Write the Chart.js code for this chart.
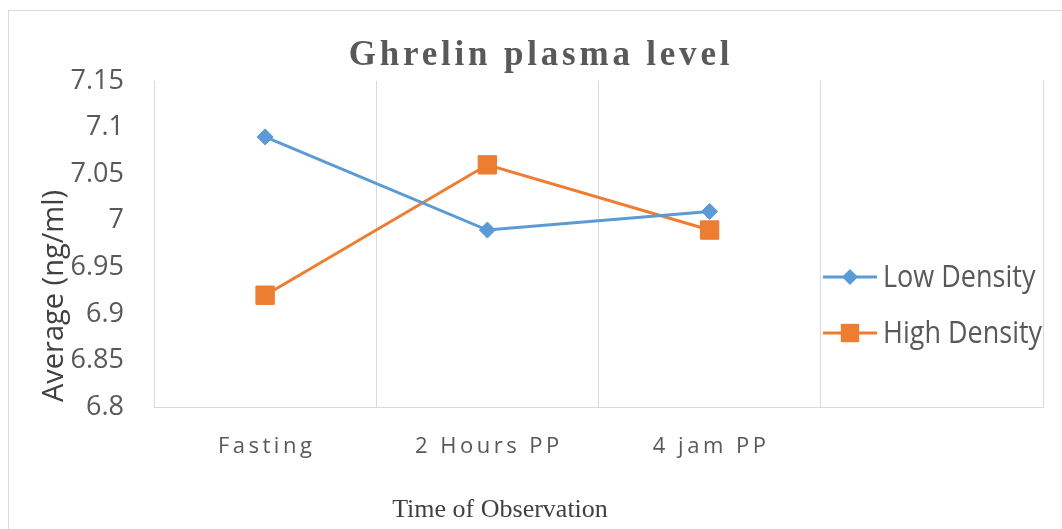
<!DOCTYPE html>
<html>
<head>
<meta charset="utf-8">
<script src="https://cdn.jsdelivr.net/npm/chart.js@4/dist/chart.umd.min.js"></script>
<style>
  html, body { margin: 0; padding: 0; background: #fff; }
  #wrap { width: 1062px; height: 529px; position: relative; }
</style>
</head>
<body>
<div id="wrap"><canvas id="ghrelinChart"></canvas></div>
<script>
const categories = ['Fasting', '2 Hours PP', '4 jam PP', ''];
const lowDensity = [7.09, 6.99, 7.01];
const highDensity = [6.92, 7.06, 6.99];
const yMin = 6.8;
const yMax = 7.15;
const yStep = 0.05;
const chartTitle = 'Ghrelin plasma level';
const xTitle = 'Time of Observation';
const yTitle = 'Average (ng/ml)';

// diamond / square marker, same as the points on the lines
function drawMarker(ctx, style, r, x, y) {
    ctx.beginPath();
    if (style === 'rectRot') {
        ctx.moveTo(x, y - r);
        ctx.lineTo(x + r, y);
        ctx.lineTo(x, y + r);
        ctx.lineTo(x - r, y);
    } else {
        const s = r * Math.SQRT1_2;
        ctx.rect(x - s, y - s, 2 * s, 2 * s);
    }
    ctx.closePath();
    ctx.fill();
}

const extras = {
    id: 'extras',
    beforeDraw(chart) {
        const ctx = chart.ctx;
        ctx.save();
        ctx.fillStyle = '#fff';
        ctx.fillRect(0, 0, chart.width, chart.height);
        ctx.strokeStyle = '#d9d9d9';
        ctx.lineWidth = 1;
        ctx.strokeRect(8.5, 10.5, chart.width + 20, chart.height + 20);
        ctx.restore();
    },
    afterDraw(chart) {
        const ctx = chart.ctx;
        const xScale = chart.scales.x;

        // title
        ctx.save();
        ctx.fillStyle = '#595959';
        ctx.font = 'bold 35px "Liberation Serif", serif';
        ctx.letterSpacing = '3.8px';
        ctx.textAlign = 'center';
        ctx.textBaseline = 'alphabetic';
        ctx.fillText(chartTitle, 541, 65);
        ctx.restore();

        // category labels
        ctx.save();
        ctx.fillStyle = '#595959';
        ctx.font = '22px "Open Sans"';
        ctx.letterSpacing = '3.5px';
        ctx.textAlign = 'center';
        ctx.textBaseline = 'alphabetic';
        categories.forEach((c, i) => {
            ctx.fillText(c, xScale.getPixelForTick(i) + 1.5, 453);
        });
        ctx.restore();

        // x axis title
        ctx.save();
        ctx.fillStyle = '#404040';
        ctx.font = '26px "Liberation Serif", serif';
        ctx.textAlign = 'center';
        ctx.textBaseline = 'alphabetic';
        ctx.fillText(xTitle, 500, 517);
        ctx.restore();

        // y axis title
        ctx.save();
        ctx.fillStyle = '#404040';
        ctx.font = '29px "Open Sans"';
        ctx.translate(63, 296);
        ctx.rotate(-Math.PI / 2);
        ctx.textAlign = 'center';
        ctx.textBaseline = 'alphabetic';
        ctx.fillText(yTitle, 0, 0);
        ctx.restore();

        // legend
        chart.data.datasets.forEach((ds, i) => {
            const y = 277 + i * 56;
            ctx.save();
            ctx.strokeStyle = ds.borderColor;
            ctx.fillStyle = ds.backgroundColor;
            ctx.lineWidth = 3;
            ctx.beginPath();
            ctx.moveTo(823, y);
            ctx.lineTo(877, y);
            ctx.stroke();
            drawMarker(ctx, ds.pointStyle, ds.pointRadius, 850, y);
            ctx.fillStyle = '#595959';
            ctx.font = '27px "Open Sans"';
            ctx.textAlign = 'left';
            ctx.textBaseline = 'middle';
            ctx.translate(883, y);
            ctx.scale(1, 1.15);
            ctx.fillText(ds.label, 0, 1);
            ctx.restore();
        });
    }
};

const el = document.getElementById('ghrelinChart');
new Chart(el, {
    type: 'line',
    data: {
        labels: categories,
        datasets: [
            { label: 'Low Density', data: lowDensity, borderColor: '#5b9bd5', backgroundColor: '#5b9bd5', borderWidth: 3, pointStyle: 'rectRot', pointRadius: 8, pointHoverRadius: 8, pointBorderWidth: 1, tension: 0 },
            { label: 'High Density', data: highDensity, borderColor: '#ed7d31', backgroundColor: '#ed7d31', borderWidth: 3, pointStyle: 'rect', pointRadius: 13, pointHoverRadius: 13, pointBorderWidth: 1, tension: 0 }
        ]
    },
    options: {
        responsive: true,
        maintainAspectRatio: false,
        animation: false,
        devicePixelRatio: 1,
        layout: { padding: { top: 81, right: 19, bottom: 122, left: 0 } },
        plugins: { legend: { display: false }, title: { display: false }, tooltip: { enabled: false } },
        scales: {
            x: {
                offset: true,
                grid: { offset: true, color: '#d9d9d9', drawTicks: false },
                border: { color: '#d9d9d9' },
                ticks: { display: false },
                afterFit(s) { s.height = 0; }
            },
            y: {
                min: yMin,
                max: yMax,
                grid: { display: false, drawTicks: false },
                border: { display: true, color: '#d9d9d9' },
                ticks: {
                    stepSize: yStep,
                    padding: 30,
                    color: '#595959',
                    font: { family: 'Open Sans', size: 27 },
                    callback: v => String(+v.toFixed(2))
                },
                afterFit(s) { s.width = 154; }
            }
        }
    },
    plugins: [extras]
});
</script>
</body>
</html>
